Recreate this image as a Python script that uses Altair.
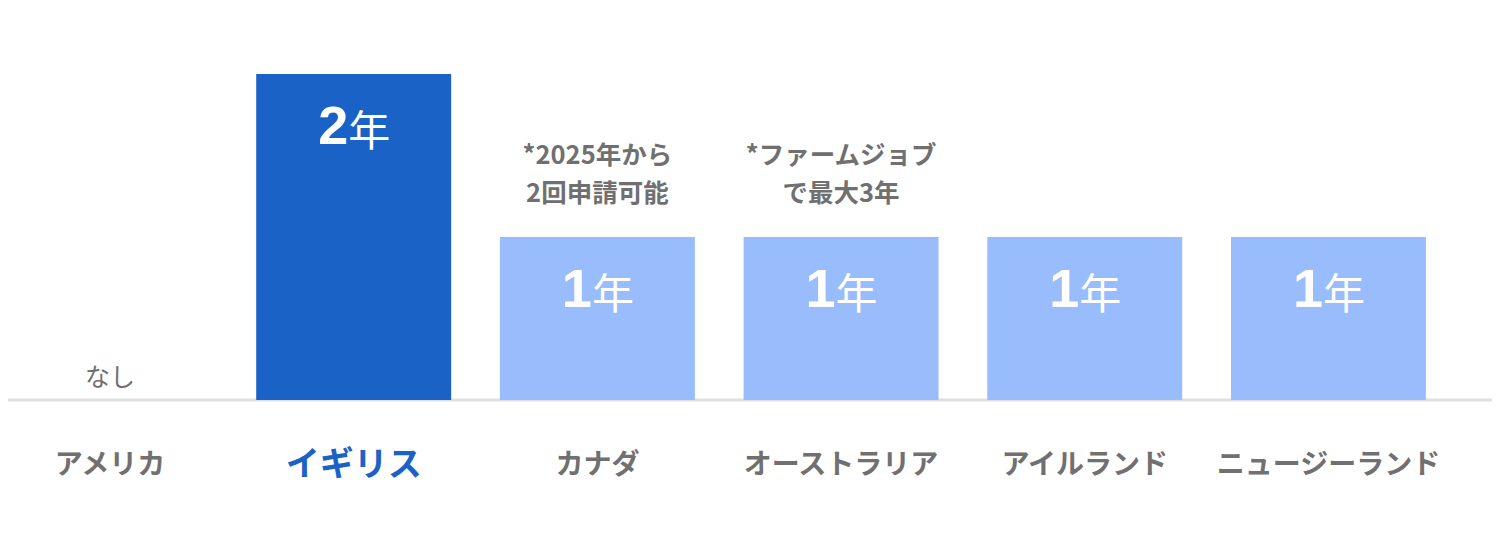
import altair as alt
import pandas as pd

countries = ["アメリカ", "イギリス", "カナダ", "オーストラリア", "アイルランド", "ニュージーランド"]
years = [0, 2, 1, 1, 1, 1]
highlight = [False, True, False, False, False, False]
num_labels = ["", "2", "1", "1", "1", "1"]
unit_labels = ["", "年", "年", "年", "年", "年"]
notes_line1 = ["", "", "*2025年から", "*ファームジョブ", "", ""]
notes_line2 = ["", "", "2回申請可能", "で最大3年", "", ""]
none_labels = ["なし", "", "", "", "", ""]

df = pd.DataFrame({
    "country": countries,
    "years": years,
    "highlight": highlight,
    "num": num_labels,
    "unit": unit_labels,
    "note1": notes_line1,
    "note2": notes_line2,
    "none": none_labels,
})

W = 1484
H = 392
DARK = "#1b62c7"
LIGHT = "#99bdfc"
GRAY = "#707070"
JP = "Noto Sans CJK JP"

xscale = alt.Scale(domain=countries, range=[-19.85, 1442.3], paddingInner=0.2, paddingOuter=0.1)
yscale = alt.Scale(domain=[0, 2.405], nice=False, zero=True)

x_enc = alt.X(
    "country:N",
    scale=xscale,
    sort=countries,
    axis=alt.Axis(
        title=None,
        ticks=False,
        domain=False,
        grid=False,
        labelPadding=65,
        labelBaseline="middle",
        labelAngle=0,
        labelLimit=0,
        labelFont=JP,
        labelFontWeight="bold",
        labelColor={"expr": f"datum.value === 'イギリス' ? '{DARK}' : '{GRAY}'"},
        labelFontSize={"expr": "datum.value === 'イギリス' ? 34 : 28"},
    ),
)
y_enc = alt.Y("years:Q", scale=yscale, axis=None)

base = alt.Chart(df)

rule = alt.Chart(pd.DataFrame({"y": [0]})).mark_rule(color="#e0e0e0", strokeWidth=3).encode(
    y=alt.Y("y:Q", scale=yscale, axis=None),
    x=alt.value(-8),
    x2=alt.value(W + 8),
)

bars = base.transform_filter("datum.years > 0").mark_bar().encode(
    x=x_enc,
    y=y_enc,
    color=alt.condition("datum.highlight", alt.value(DARK), alt.value(LIGHT)),
)

nums = base.transform_filter("datum.years > 0").mark_text(
    align="right", baseline="alphabetic", dx=-5.5, dy=70,
    font="Liberation Sans", fontWeight="bold", fontSize=54, color="white",
).encode(x=x_enc, y=y_enc, text="num:N")

units = base.transform_filter("datum.years > 0").mark_text(
    align="left", baseline="alphabetic", dx=-5.5, dy=72,
    font=JP, fontWeight="normal", fontSize=42, color="white",
).encode(x=x_enc, y=y_enc, text="unit:N")

note1_text = base.transform_filter("datum.note1 != ''").mark_text(
    align="center", baseline="alphabetic", dy=-73,
    font=JP, fontWeight="bold", fontSize=25.5, color=GRAY,
).encode(x=x_enc, y=y_enc, text="note1:N")

note2_text = base.transform_filter("datum.note2 != ''").mark_text(
    align="center", baseline="alphabetic", dy=-35,
    font=JP, fontWeight="bold", fontSize=25.5, color=GRAY,
).encode(x=x_enc, y=y_enc, text="note2:N")

none_text = base.transform_filter("datum.none != ''").mark_text(
    align="center", baseline="alphabetic", dy=-14,
    font=JP, fontWeight="normal", fontSize=25, color=GRAY,
).encode(x=x_enc, y=y_enc, text="none:N")

chart = alt.layer(rule, bars, nums, units, note1_text, note2_text, none_text).properties(
    width=W,
    height=H,
    autosize=alt.AutoSizeParams(type="none"),
    padding={"left": 0, "top": 0, "right": 0, "bottom": 120},
    background="white",
).configure_view(stroke=None)

chart.save("out.html", embed_options={"renderer": "svg", "actions": False})
